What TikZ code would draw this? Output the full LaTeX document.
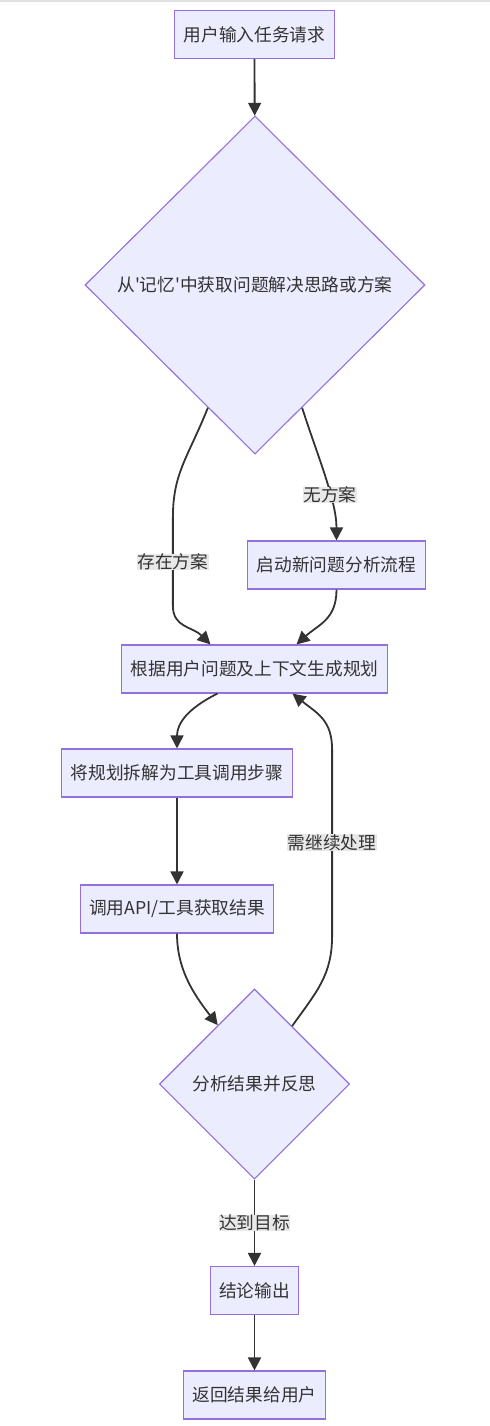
\documentclass[tikz,border=0pt]{standalone}
\usepackage{fontspec}
\setmainfont{Noto Sans CJK SC}[Ligatures=TeXOff]
\usetikzlibrary{arrows.meta,shapes.geometric}
\definecolor{boxfill}{HTML}{ECECFF}
\definecolor{boxline}{HTML}{9370DB}
\definecolor{edgeline}{HTML}{333333}
\definecolor{labelfill}{HTML}{E8E8E8}
\begin{document}
\begin{tikzpicture}[x=1bp, y=-1bp,
        font=\fontsize{17.7bp}{21bp}\selectfont,
        stepbox/.style={draw=boxline, fill=boxfill, line width=1.1bp, text=edgeline,
            inner xsep=9bp, inner ysep=0pt, minimum height=48bp},
        choice/.style={diamond, draw=boxline, fill=boxfill, line width=1.1bp, text=edgeline, inner sep=0pt},
        flow/.style={draw=edgeline, line width=1.8bp, -{Triangle[length=13bp,width=13bp]}},
        edgelabel/.style={fill=labelfill, text=edgeline, inner xsep=0.5bp, inner ysep=0pt}]
    \useasboundingbox (0, 0) rectangle (490, 1426);
    \fill [black!12] (0, 0) rectangle (490, 2.5);
    \node [stepbox] (request) at (254.5, 34.5) {用户输入任务请求};
    \node [choice, minimum width=340bp, minimum height=338bp] (memory) at (255, 285) {从'记忆'中获取问题解决思路或方案};
    \node [stepbox] (newflow) at (336.5, 565) {启动新问题分析流程};
    \node [stepbox] (plan) at (254.5, 669) {根据用户问题及上下文生成规划};
    \node [stepbox] (split) at (177, 773) {将规划拆解为工具调用步骤};
    \node [stepbox] (callapi) at (177, 909) {调用API/工具获取结果};
    \node [choice, minimum width=190bp, minimum height=190bp] (reflect) at (254.5, 1084) {分析结果并反思};
    \node [stepbox] (conclude) at (254.5, 1290.5) {结论输出};
    \node [stepbox] (reply) at (254.5, 1395) {返回结果给用户};
    \draw [flow] (request) -- (memory);
    \draw [flow] (memory.-111) .. controls +(-20, 50) and +(0, -45) .. ++(-35, 110)
        -- node [edgelabel] {存在方案} ++(0, 88)
        .. controls +(0, 22) and +(-18, -18) .. ([xshift=-44bp]plan.north);
    \draw [flow] (memory.-69) .. controls +(15, 47) and +(0, -40) .. node [edgelabel, pos=0.64] {无方案} (newflow.north);
    \draw [flow] (newflow.south) .. controls +(0, 30) and +(22, -20) .. ([xshift=42bp]plan.north);
    \draw [flow] ([xshift=-37bp]plan.south) .. controls +(-30, 15) and +(0, -25) .. (split.north);
    \draw [flow] (split) -- (callapi);
    \draw [flow] (callapi.south) .. controls +(0, 35) and +(-25, -32) .. (reflect.122);
    \draw [flow] (reflect.57) .. controls +(25, -35) and +(0, 40) .. ++(40, -91)
        -- node [edgelabel] {需继续处理} ++(0, -185)
        .. controls +(0, -30) and +(25, 20) .. ([xshift=38bp]plan.south);
    \draw [flow] (reflect) -- node [edgelabel] {达到目标} (conclude);
    \draw [flow] (conclude) -- (reply);
\end{tikzpicture}
\end{document}
